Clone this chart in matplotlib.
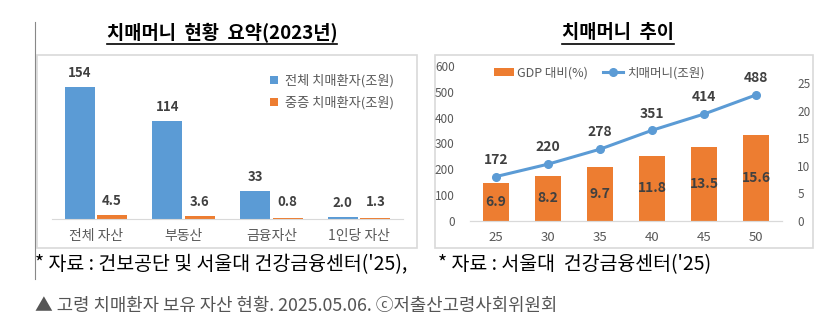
import numpy as np
import matplotlib
matplotlib.use('Agg')
import matplotlib.pyplot as plt
from matplotlib.patches import Rectangle
from matplotlib.lines import Line2D

plt.rcParams['font.family'] = ['Noto Sans CJK KR', 'DejaVu Sans']

# left chart data (2023)
asset_cats = ['전체 자산', '부동산', '금융자산', '1인당 자산']
all_patients = [154, 114, 33, 2.0]
severe_patients = [4.5, 3.6, 0.8, 1.3]
all_labels = ['154', '114', '33', '2.0']
severe_labels = ['4.5', '3.6', '0.8', '1.3']

# right chart data
years = ['25', '30', '35', '40', '45', '50']
gdp_ratio = [6.9, 8.2, 9.7, 11.8, 13.5, 15.6]
money = [172, 220, 278, 351, 414, 488]

BLUE = '#5B9BD5'
ORANGE = '#ED7D31'
LBL = '#404040'
TICK = '#595959'

W, H = 832, 323
fig = plt.figure(figsize=(W / 100, H / 100), dpi=100)


def px(x0, y0, x1, y1):
    return [x0 / W, 1 - y1 / H, (x1 - x0) / W, (y1 - y0) / H]


# left vertical rule and chart frames
fig.add_artist(Line2D([35 / W, 35 / W], [1 - 22 / H, 1 - 279 / H], color='#888888', lw=0.8))
for x0, x1 in [(37, 417), (435, 813)]:
    fig.add_artist(Rectangle((x0 / W, 1 - 248 / H), (x1 - x0) / W, 193 / H,
                             fill=False, ec='#D9D9D9', lw=1.2))

# ---- left chart ----
ax1 = fig.add_axes(px(52, 60, 403, 219))
x = np.arange(len(asset_cats))
bw = 0.34
ax1.bar(x - 0.185, all_patients, bw, color=BLUE, label='전체 치매환자(조원)')
ax1.bar(x + 0.185, severe_patients, bw, color=ORANGE, label='중증 치매환자(조원)')
ax1.set_xlim(-0.5, 3.5)
ax1.set_ylim(0, 185.5)
for i in range(len(x)):
    ax1.annotate(all_labels[i], (x[i] - 0.185, all_patients[i]), xytext=(0, 5),
                 textcoords='offset points', ha='center', va='bottom',
                 fontsize=9.5, fontweight='bold', color=LBL)
    ax1.annotate(severe_labels[i], (x[i] + 0.185, max(severe_patients[i], 3.5)), xytext=(0, 5),
                 textcoords='offset points', ha='center', va='bottom',
                 fontsize=9.5, fontweight='bold', color=LBL)
ax1.set_xticks(x)
ax1.set_xticklabels(asset_cats, fontsize=10, color=TICK)
ax1.tick_params(axis='x', length=0, pad=7)
ax1.set_yticks([])
for s in ['top', 'right', 'left']:
    ax1.spines[s].set_visible(False)
ax1.spines['bottom'].set_color('#D9D9D9')
ax1.legend(loc='upper right', bbox_to_anchor=(1.0, 0.97), frameon=False, fontsize=9.5,
           labelcolor=TICK, handlelength=0.6, handleheight=0.6, handletextpad=0.5,
           labelspacing=0.65, borderaxespad=0.3)

# ---- right chart ----
ax2 = fig.add_axes(px(470, 66, 782, 221))
ax3 = ax2.twinx()
xr = np.arange(len(years))
ax3.bar(xr, gdp_ratio, 0.5, color=ORANGE, label='GDP 대비(%)', zorder=1)
ax3.set_ylim(0, 28.1)
ax3.set_yticks([0, 5, 10, 15, 20, 25])
for i in range(len(xr)):
    ax3.text(xr[i], gdp_ratio[i] / 2, f'{gdp_ratio[i]}', ha='center', va='center',
             fontsize=10, fontweight='bold', color=LBL)
ax2.set_zorder(ax3.get_zorder() + 1)
ax2.patch.set_visible(False)
ax2.plot(xr, money, color=BLUE, lw=2.2, marker='o', ms=5.5, label='치매머니(조원)')
for i in range(len(xr)):
    ax2.annotate(str(money[i]), (xr[i], money[i]), xytext=(0, 7), textcoords='offset points',
                 ha='center', va='bottom', fontsize=10, fontweight='bold', color=LBL)
ax2.set_xlim(-0.5, 5.5)
ax2.set_ylim(0, 600)
ax2.set_yticks(range(0, 601, 100))
ax2.set_xticks(xr)
ax2.set_xticklabels(years)
for a in (ax2, ax3):
    a.tick_params(length=0, labelsize=8.5, labelcolor=TICK)
    for s in ['top', 'right', 'left']:
        a.spines[s].set_visible(False)
    a.spines['bottom'].set_color('#D9D9D9')
ax2.tick_params(axis='x', pad=7, labelsize=9.5)
ax2.tick_params(axis='y', pad=11)
ax3.tick_params(axis='y', pad=11)
h1, l1 = ax3.get_legend_handles_labels()
h2, l2 = ax2.get_legend_handles_labels()
ax2.legend(h1 + h2, l1 + l2, loc='upper left', bbox_to_anchor=(0.04, 1.07), ncol=2,
           frameon=False, fontsize=9, labelcolor=TICK, handlelength=1.6,
           handletextpad=0.3, columnspacing=1.2)

# ---- titles, notes ----
titles = []
titles.append(fig.text(222 / W, 1 - 33 / H, '치매머니  현황  요약(2023년)', ha='center', va='center',
                       fontsize=13.5, fontweight='bold', color='black'))
titles.append(fig.text(618 / W, 1 - 33 / H, '치매머니  추이', ha='center', va='center',
                       fontsize=13.5, fontweight='bold', color='black'))
fig.text(35 / W, 1 - 265 / H, "* 자료 : 건보공단 및 서울대 건강금융센터('25),", ha='left', va='center',
         fontsize=14, color='black')
fig.text(438 / W, 1 - 265 / H, "* 자료 : 서울대  건강금융센터('25)", ha='left', va='center',
         fontsize=14, color='black')
fig.text(35 / W, 1 - 306 / H, '▲ 고령 치매환자 보유 자산 현황. 2025.05.06. ⓒ저출산고령사회위원회',
         ha='left', va='center', fontsize=12.8, color='#555555')

# underline the titles
fig.canvas.draw()
r = fig.canvas.get_renderer()
for t in titles:
    bb = t.get_window_extent(r)
    fig.add_artist(Line2D([bb.x0 / W, bb.x1 / W], [1 - 44 / H, 1 - 44 / H], color='black', lw=1.2))

fig.savefig('out.png', dpi=100)
